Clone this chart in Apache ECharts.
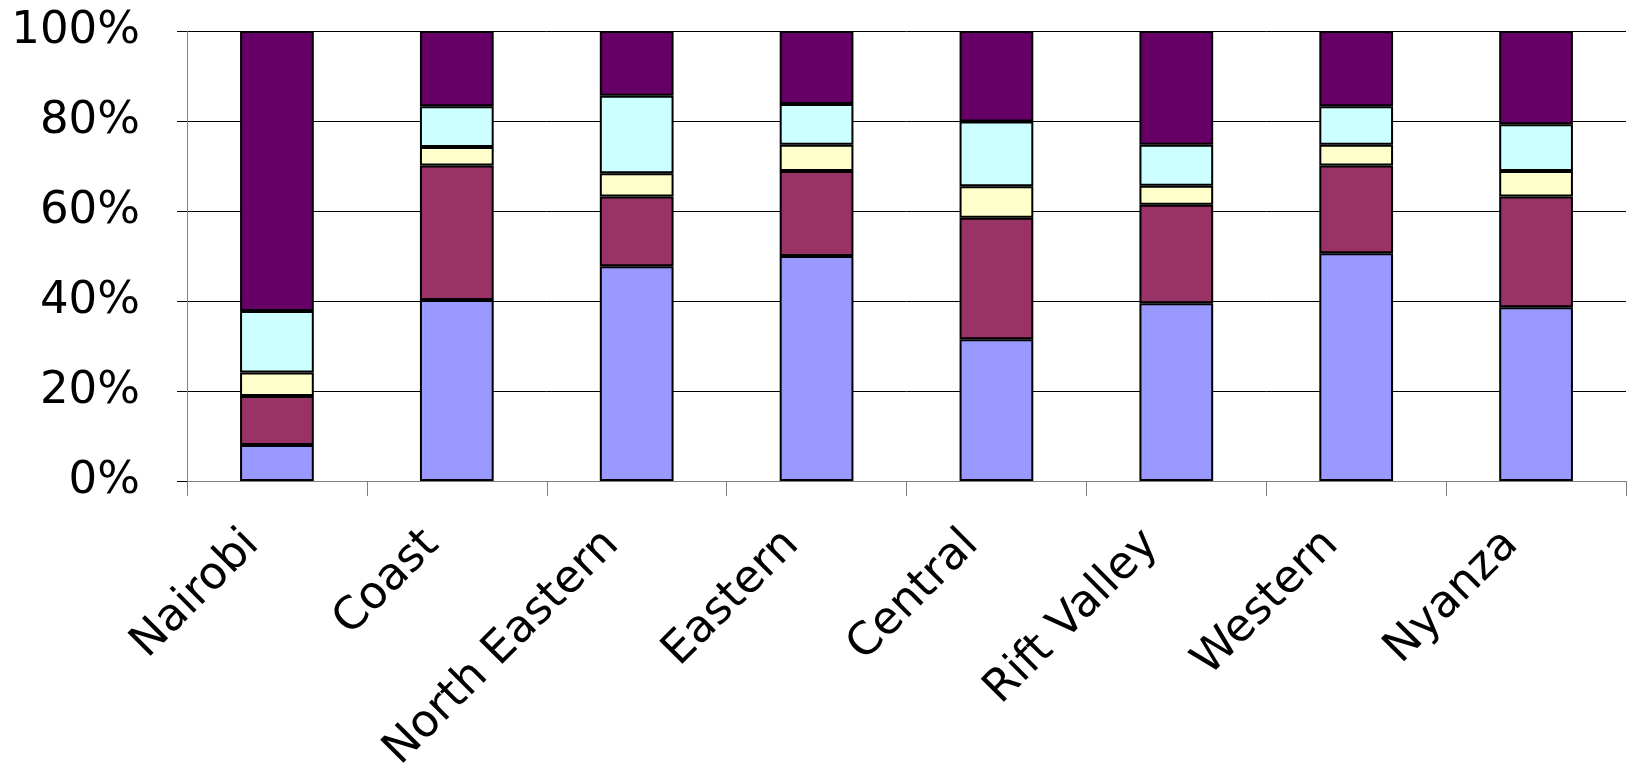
<!DOCTYPE html>
<html>
<head>
<meta charset="utf-8">
<script src="https://cdn.jsdelivr.net/npm/echarts@6/dist/echarts.min.js"></script>
<style>
html,body{margin:0;padding:0;background:#fff;}
#chart{width:1631px;height:768px;}
</style>
</head>
<body>
<div id="chart"></div>
<script>
const categories = ['Nairobi','Coast','North Eastern','Eastern','Central','Rift Valley','Western','Nyanza'];
const seriesA = [8.0, 40.2, 47.7, 50.0, 31.5, 39.5, 50.6, 38.6];
const seriesB = [10.9, 29.9, 15.5, 18.9, 27.0, 21.9, 19.5, 24.6];
const seriesC = [5.2, 4.1, 5.2, 5.8, 7.0, 4.2, 4.6, 5.7];
const seriesD = [13.7, 9.1, 17.2, 9.1, 14.4, 9.1, 8.6, 10.4];
const seriesE = [62.2, 16.7, 14.4, 16.2, 20.1, 25.3, 16.7, 20.7];
const yTicks = [0, 20, 40, 60, 80, 100];

const colors = ['#9999FF', '#993366', '#FFFFCC', '#CCFFFF', '#660066'];
const allSeries = [seriesA, seriesB, seriesC, seriesD, seriesE];
const font = 'DejaVu Sans, sans-serif';

const chart = echarts.init(document.getElementById('chart'));
chart.setOption({
  animation: false,
  grid: {left: 187, right: 5, top: 31, bottom: 287, containLabel: false, outerBoundsMode: 'none'},
  xAxis: {
    type: 'category',
    data: categories,
    axisLine: {lineStyle: {color: '#808080', width: 1}},
    axisTick: {show: true, length: 15, lineStyle: {color: '#808080'}},
    axisLabel: {rotate: 45, margin: 32, fontSize: 45, color: '#000', fontFamily: font, interval: 0,
      padding: [0, 35, 16, 0]}
  },
  yAxis: {
    type: 'value',
    min: 0, max: 100, interval: 20,
    axisLine: {show: true, lineStyle: {color: '#808080', width: 1}},
    axisTick: {show: true, length: 10, lineStyle: {color: '#000'}},
    splitLine: {show: true, lineStyle: {color: '#000', width: 1}},
    axisLabel: {
      margin: 47, fontSize: 45, color: '#000', fontFamily: font,
      formatter: v => yTicks.includes(v) ? v + '%' : ''
    }
  },
  series: allSeries.map((d, i) => ({
    type: 'bar',
    stack: 'total',
    data: d,
    barWidth: '41%',
    itemStyle: {color: colors[i], borderColor: '#000', borderWidth: 2}
  }))
});
</script>
</body>
</html>
